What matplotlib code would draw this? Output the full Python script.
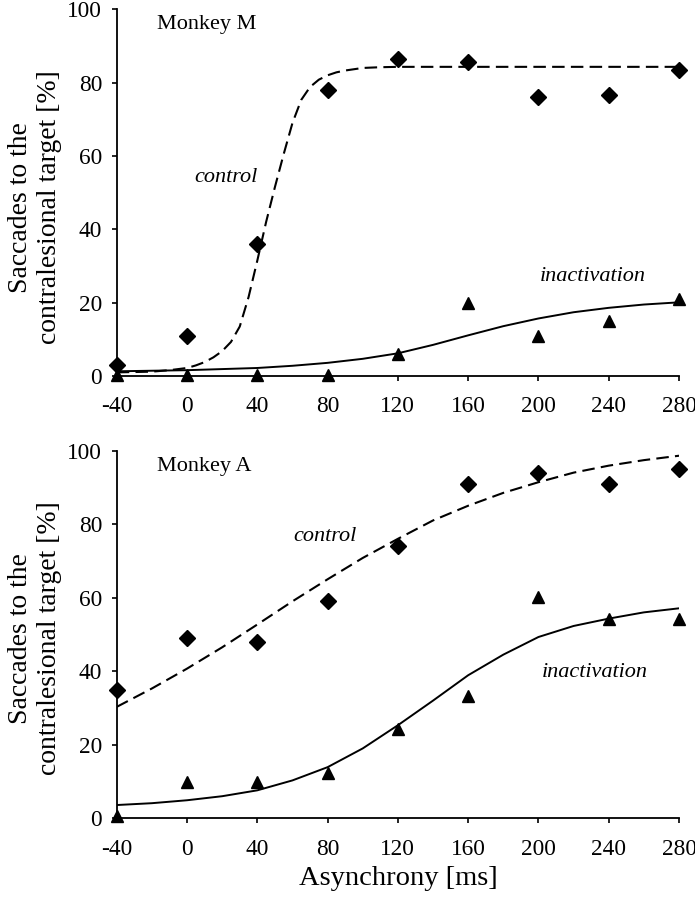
import numpy as np
import matplotlib
matplotlib.use("Agg")
import matplotlib.pyplot as plt

plt.rcParams['font.family'] = ['Liberation Serif', 'DejaVu Serif']
plt.rcParams['axes.unicode_minus'] = False

# Asynchrony values (ms)
asynchrony = [-40, 0, 40, 80, 120, 160, 200, 240, 280]

# Monkey M data points
m_control = [3, 11, 36, 78, 86.5, 85.5, 76, 76.5, 83.5]
m_inact = [0.3, 0.3, 0.3, 0.3, 6, 20, 11, 15, 21]

# Monkey M fitted curves
m_ctrl_fit_x = [-40, -20, -10, 0, 5, 10, 15, 20, 25, 30, 35, 40, 45, 50, 55, 60, 65, 70, 75, 80,
                85, 90, 100, 110, 120, 160, 200, 240, 280]
m_ctrl_fit_y = [1.0, 1.2, 1.6, 2.2, 2.9, 3.8, 5.1, 6.8, 9.3, 13.5, 21.5, 31.5, 42, 51.5, 60.5, 69,
                75.3, 78.8, 80.8, 82, 82.8, 83.3, 84, 84.2, 84.3, 84.3, 84.3, 84.3, 84.3]
m_inact_fit_x = [-40, 0, 40, 60, 80, 100, 120, 140, 160, 180, 200, 220, 240, 260, 280]
m_inact_fit_y = [1.3, 1.6, 2.2, 2.8, 3.6, 4.7, 6.2, 8.5, 11.1, 13.6, 15.7, 17.4, 18.6, 19.5, 20.1]

# Monkey A data points
a_control = [35, 49, 48, 59, 74, 91, 94, 91, 95]
a_inact = [0.5, 10, 10, 12.3, 24.2, 33.2, 60.2, 54.3, 54.3]

# Monkey A fitted curves
a_ctrl_fit_x = [-40, -20, 0, 20, 40, 60, 80, 100, 120, 140, 160, 180, 200, 220, 240, 260, 280]
a_ctrl_fit_y = [30.3, 35.3, 40.7, 46.5, 52.7, 59, 65, 70.8, 76, 81, 85, 88.5, 91.4, 94, 95.9, 97.4, 98.6]
a_inact_fit_x = [-40, -20, 0, 20, 40, 60, 80, 100, 120, 140, 160, 180, 200, 220, 240, 260, 280]
a_inact_fit_y = [3.6, 4.1, 4.9, 6.0, 7.6, 10.3, 13.9, 19, 25.3, 32, 38.9, 44.5, 49.3, 52.3, 54.3, 56, 57.1]

panels = [
    ("Monkey M", m_control, m_inact, m_ctrl_fit_x, m_ctrl_fit_y, m_inact_fit_x, m_inact_fit_y,
     (4.4, 53), (200.5, 26), 0.46),
    ("Monkey A", a_control, a_inact, a_ctrl_fit_x, a_ctrl_fit_y, a_inact_fit_x, a_inact_fit_y,
     (60.4, 75.5), (202, 38.4), 0.49),
]

fig = plt.figure(figsize=(6.95, 8.99), dpi=100)
ax_top = fig.add_axes([0.168, 0.5817, 0.809, 0.408])
ax_bot = fig.add_axes([0.168, 0.0898, 0.809, 0.409])

for ax, p in zip([ax_top, ax_bot], panels):
    name, ctrl, inact, cfx, cfy, ifx, ify, ctrl_pos, inact_pos, ylab_y = p
    ax.plot(cfx, cfy, color='black', lw=1.5, dashes=(6, 3))
    ax.plot(ifx, ify, color='black', lw=1.4)
    ax.plot(asynchrony, ctrl, 'D', color='black', ms=8, clip_on=False, zorder=5)
    ax.plot(asynchrony, inact, '^', color='black', ms=8, clip_on=False, zorder=5)

    ax.set_xlim(-40, 280)
    ax.set_ylim(0, 100)
    ax.set_xticks(asynchrony)
    ax.set_yticks([0, 20, 40, 60, 80, 100])
    for s in ['top', 'right']:
        ax.spines[s].set_visible(False)
    for s in ['left', 'bottom']:
        ax.spines[s].set_linewidth(1.3)
    ax.tick_params(axis='both', direction='out', length=3.6, width=1.2, labelsize=16.8)
    ax.tick_params(axis='x', pad=11)
    ax.tick_params(axis='y', pad=7)

    ax.text(-17.2, 94.5, name, fontsize=16, ha='left', va='baseline')
    ax.text(ctrl_pos[0], ctrl_pos[1], 'control', fontsize=16, style='italic', ha='left', va='baseline')
    ax.text(inact_pos[0], inact_pos[1], 'inactivation', fontsize=16, style='italic', ha='left', va='baseline')

    ax.set_ylabel('Saccades to the\ncontralesional target [%]', fontsize=20, linespacing=1.2)
    ax.yaxis.set_label_coords(-0.098, ylab_y)

ax_bot.set_xlabel('Asynchrony [ms]', fontsize=20.5, labelpad=5)

fig.savefig('out.png', dpi=100)
